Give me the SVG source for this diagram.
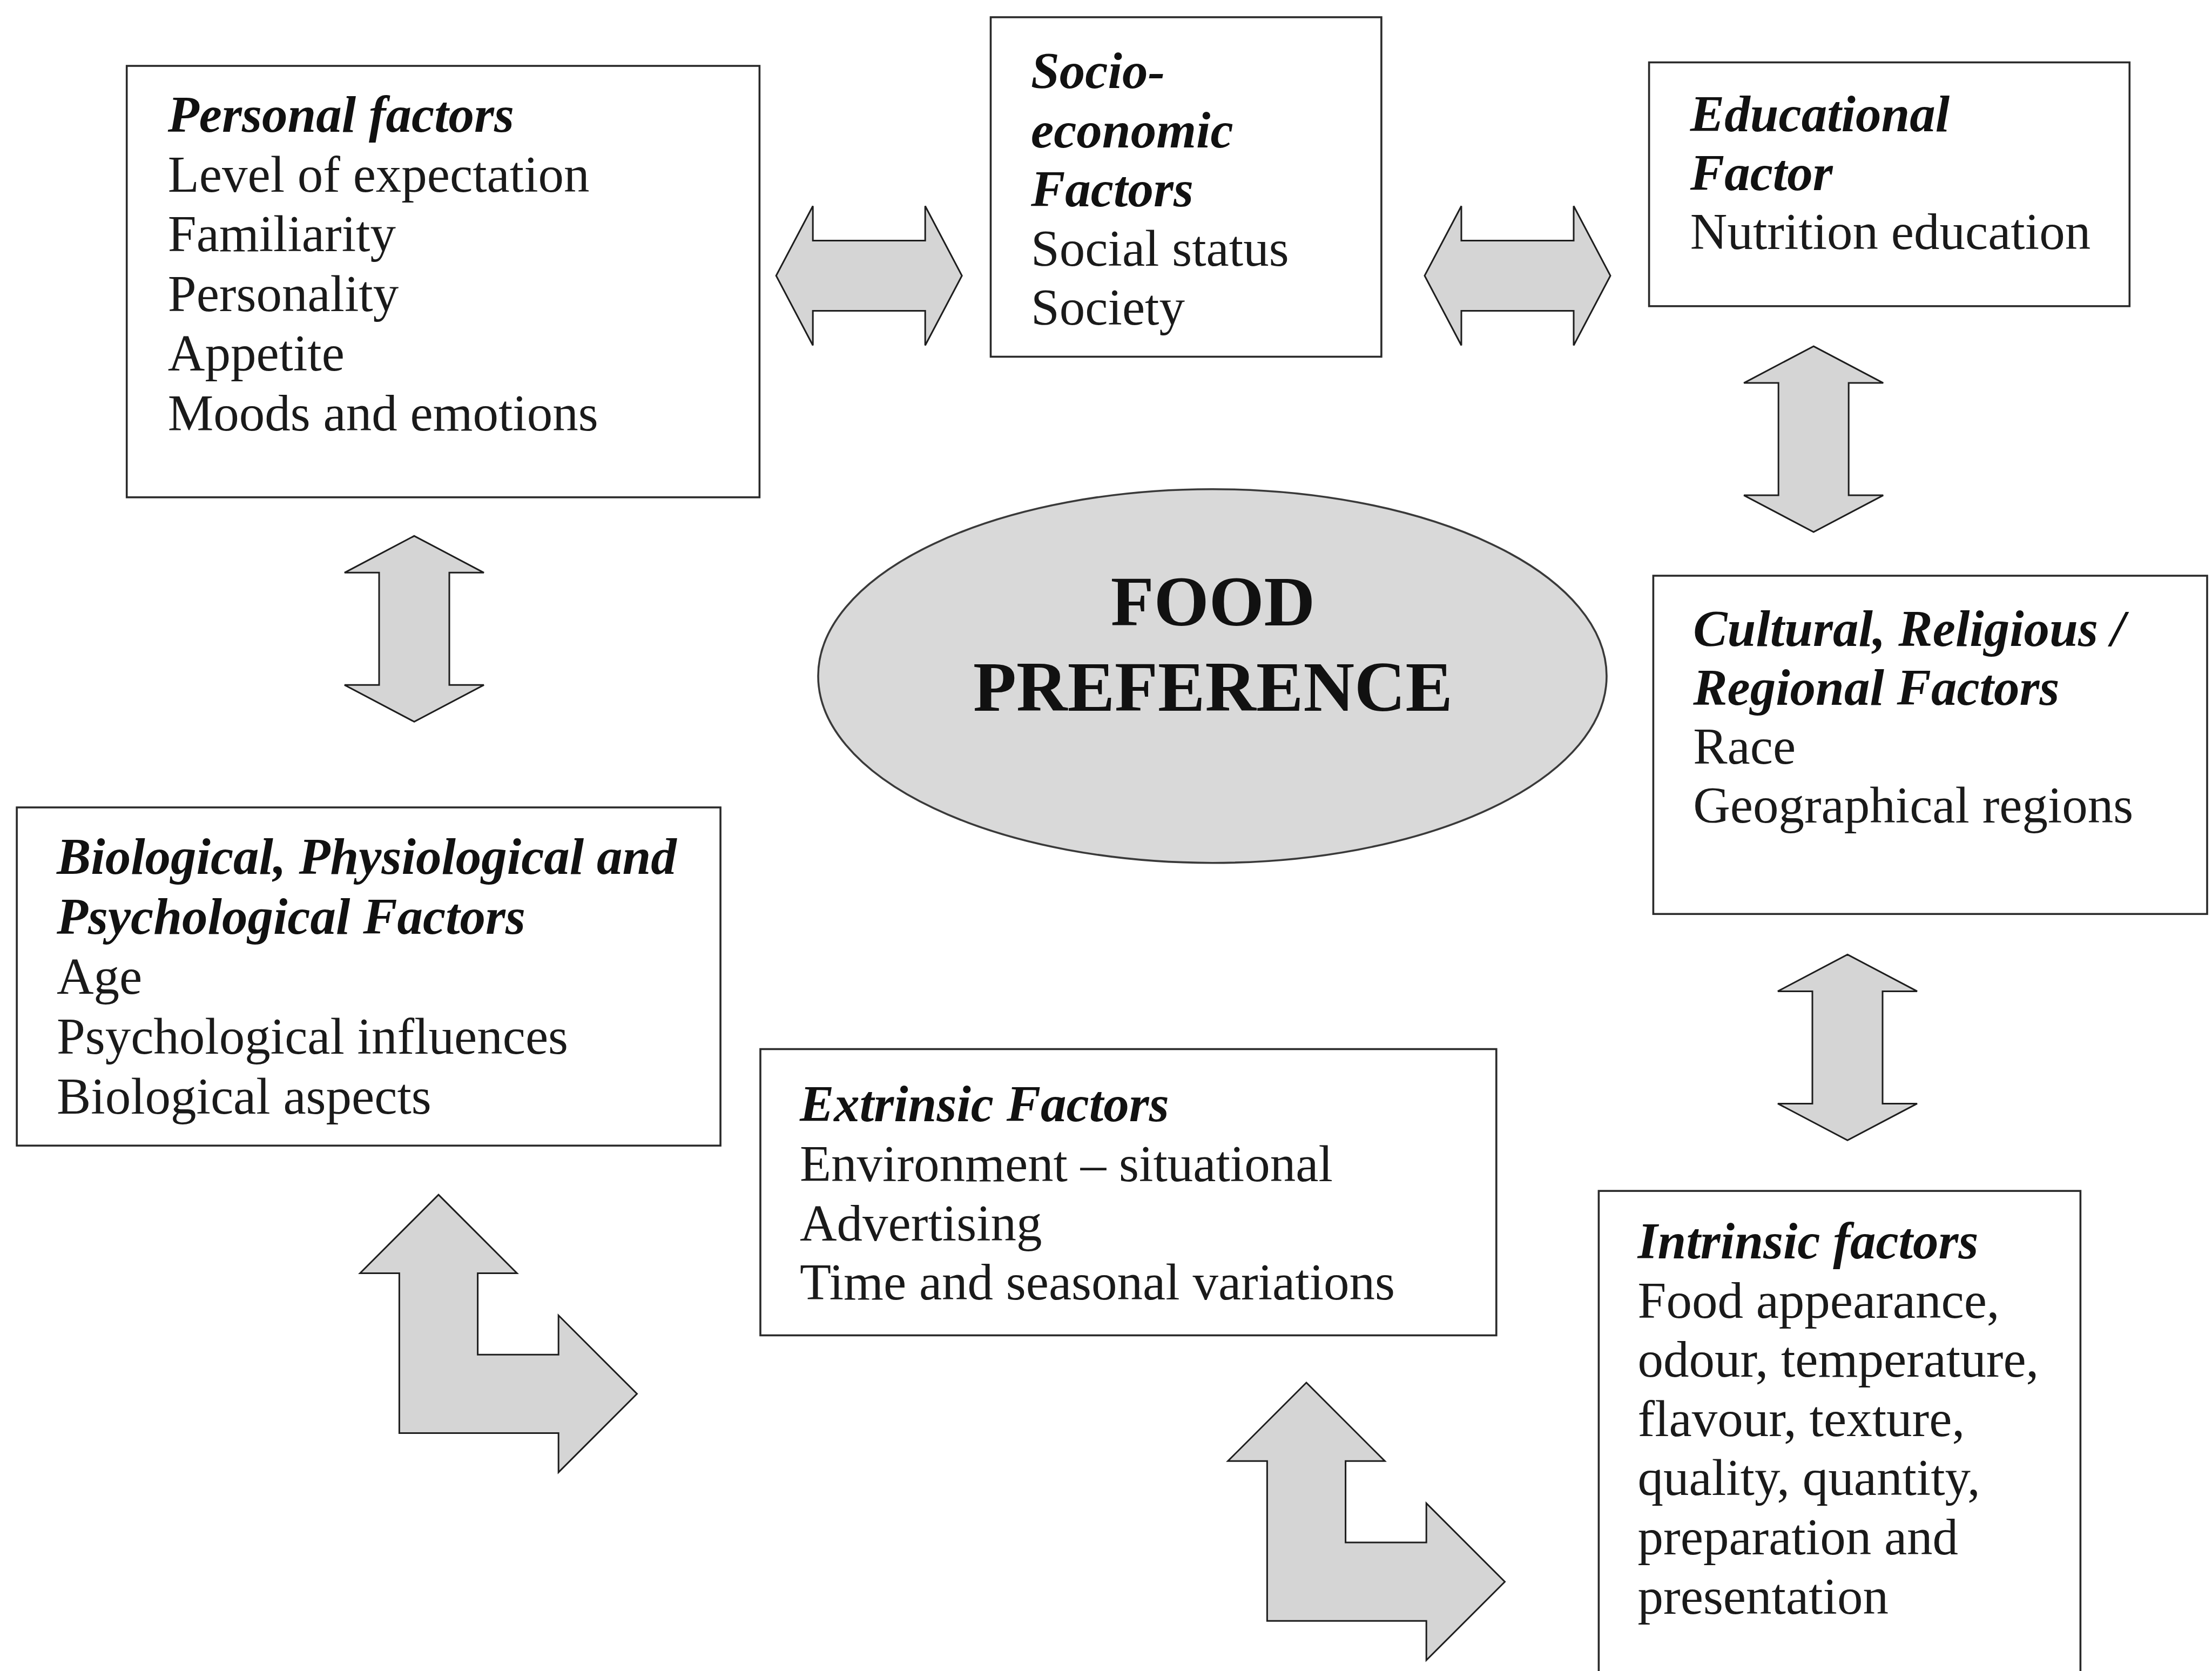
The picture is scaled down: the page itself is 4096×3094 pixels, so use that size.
<svg xmlns="http://www.w3.org/2000/svg" xmlns:xlink="http://www.w3.org/1999/xlink" width="4096" height="3094" viewBox="0 0 4096 3094">
<style>
.box{fill:#ffffff;stroke:#2a2a2a;stroke-width:3.6}
.arr{fill:#d5d5d5;stroke:#1e1e1e;stroke-width:3;stroke-linejoin:miter}
.h{font-family:"Liberation Serif","Times New Roman",serif;font-size:95px;font-weight:bold;font-style:italic;fill:#111}
.b{font-family:"Liberation Serif","Times New Roman",serif;font-size:95px;fill:#1a1a1a}
.c{font-family:"Liberation Serif","Times New Roman",serif;font-size:131px;font-weight:bold;fill:#111;text-anchor:middle}
</style>
<defs>
<path id="dah" d="M-172,0 L-104,-129 L-104,-65 L104,-65 L104,-129 L172,0 L104,129 L104,65 L-104,65 L-104,129 Z"/>
<path id="dav" d="M0,-172 L129,-104 L65,-104 L65,104 L129,104 L0,172 L-129,104 L-65,104 L-65,-104 L-129,-104 Z"/>
<path id="larr" d="M0,0 L145.3,145.3 L72.6,145.3 L72.6,296.1 L222.2,296.1 L222.2,223.4 L367.5,368.7 L222.2,514 L222.2,441.3 L-72.6,441.3 L-72.6,145.3 L-145.3,145.3 Z"/>
</defs>
<rect width="4096" height="3094" fill="#ffffff"/>

<g id="connectors">
<use href="#dah" xlink:href="#dah" class="arr" transform="translate(1609.2,510.5)"/>
<use href="#dah" xlink:href="#dah" class="arr" transform="translate(2810,510.5)"/>
<use href="#dav" xlink:href="#dav" class="arr" transform="translate(767,1164.3)"/>
<use href="#dav" xlink:href="#dav" class="arr" transform="translate(3358.2,813.1)"/>
<use href="#dav" xlink:href="#dav" class="arr" transform="translate(3421,1939.4)"/>
<use href="#larr" xlink:href="#larr" class="arr" transform="translate(812,2212.1)"/>
<use href="#larr" xlink:href="#larr" class="arr" transform="translate(2419,2560)"/>
</g>

<g id="personal">
<rect class="box" x="234.7" y="122" width="1171.7" height="798.8"/>
<text class="h" x="310.8" y="244">Personal factors</text>
<text class="b" x="310.8" y="354.5">Level of expectation</text>
<text class="b" x="310.8" y="465">Familiarity</text>
<text class="b" x="310.8" y="575.5">Personality</text>
<text class="b" x="310.8" y="686">Appetite</text>
<text class="b" x="310.8" y="796.5">Moods and emotions</text>
</g>

<g id="socioeconomic">
<rect class="box" x="1834.5" y="31.9" width="723.4" height="628.6"/>
<text class="h" x="1909" y="163">Socio-</text>
<text class="h" x="1909" y="272.5">economic</text>
<text class="h" x="1909" y="382">Factors</text>
<text class="b" x="1909" y="491.5">Social status</text>
<text class="b" x="1909" y="601">Society</text>
</g>

<g id="educational">
<rect class="box" x="3053.6" y="115.5" width="889.7" height="451.4"/>
<text class="h" x="3129.8" y="243">Educational</text>
<text class="h" x="3129.8" y="352">Factor</text>
<text class="b" x="3129.8" y="461">Nutrition education</text>
</g>

<g id="food-preference">
<ellipse cx="2245" cy="1251.7" rx="730" ry="346" fill="#d9d9d9" stroke="#3a3a3a" stroke-width="3.6"/>
<text class="c" x="2246" y="1157.7">FOOD</text>
<text class="c" x="2246" y="1315.5">PREFERENCE</text>
</g>

<g id="cultural">
<rect class="box" x="3061.4" y="1066" width="1025.6" height="626.3"/>
<text class="h" x="3135.2" y="1196">Cultural, Religious /</text>
<text class="h" x="3135.2" y="1305">Regional Factors</text>
<text class="b" x="3135.2" y="1414">Race</text>
<text class="b" x="3135.2" y="1523">Geographical regions</text>
</g>

<g id="biological">
<rect class="box" x="31.1" y="1495" width="1303" height="626.2"/>
<text class="h" x="104.9" y="1618">Biological, Physiological and</text>
<text class="h" x="104.9" y="1729">Psychological Factors</text>
<text class="b" x="104.9" y="1840">Age</text>
<text class="b" x="104.9" y="1951">Psychological influences</text>
<text class="b" x="104.9" y="2062">Biological aspects</text>
</g>

<g id="extrinsic">
<rect class="box" x="1408" y="1942.5" width="1362.8" height="530"/>
<text class="h" x="1481" y="2076">Extrinsic Factors</text>
<text class="b" x="1481" y="2186.5">Environment – situational</text>
<text class="b" x="1481" y="2296.8">Advertising</text>
<text class="b" x="1481" y="2406.4">Time and seasonal variations</text>
</g>

<g id="intrinsic">
<rect class="box" x="2960.4" y="2205.1" width="892" height="950"/>
<text class="h" x="3032.6" y="2330">Intrinsic factors</text>
<text class="b" x="3032.6" y="2439.6">Food appearance,</text>
<text class="b" x="3032.6" y="2549.2">odour, temperature,</text>
<text class="b" x="3032.6" y="2658.8">flavour, texture,</text>
<text class="b" x="3032.6" y="2768.4">quality, quantity,</text>
<text class="b" x="3032.6" y="2878">preparation and</text>
<text class="b" x="3032.6" y="2987.6">presentation</text>
</g>
</svg>
